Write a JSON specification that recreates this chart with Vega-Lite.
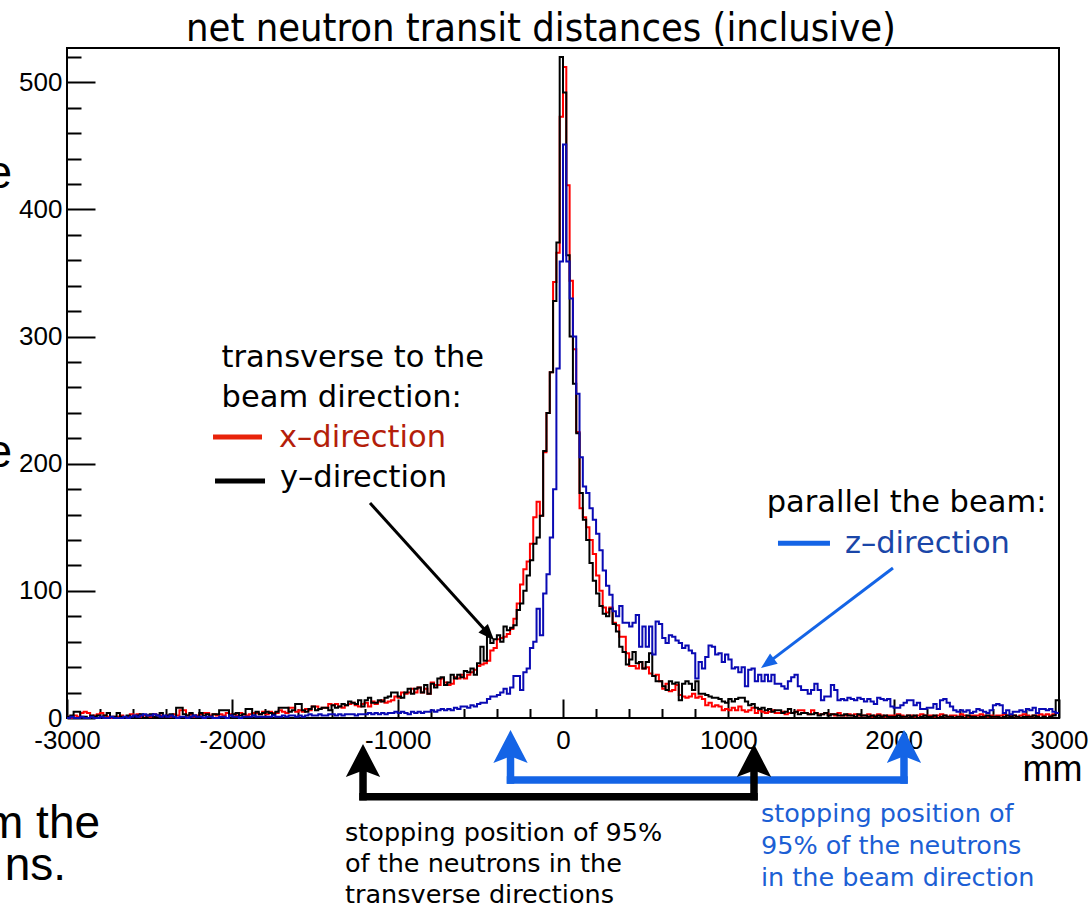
{
  "$schema": "https://vega.github.io/schema/vega-lite/v6.json",
  "width": 992,
  "height": 670,
  "autosize": {"type": "none"},
  "padding": {"left": 67, "top": 48, "right": 30, "bottom": 189},
  "background": "#ffffff",
  "title": {"text": "net neutron transit distances (inclusive)", "font": "DejaVu Sans Condensed, DejaVu Sans", "fontSize": 39.5, "fontWeight": "normal", "color": "#000000", "anchor": "middle", "frame": "group", "dx": -22, "dy": 42, "offset": 10, "baseline": "alphabetic"},
  "config": {"view": {"stroke": "#000000", "strokeWidth": 2}},
  "resolve": {"scale": {"color": "independent"}, "axis": {"x": "independent", "y": "independent"}},
  "datasets": {
    "hist": [
      {"mm":-3000,"x":1,"y":1,"z":0},{"mm":-2980,"x":0,"y":2,"z":1},{"mm":-2960,"x":2,"y":5,"z":0},{"mm":-2940,"x":1,"y":5,"z":0},{"mm":-2920,"x":4,"y":1,"z":1},
      {"mm":-2900,"x":5,"y":1,"z":0},{"mm":-2880,"x":4,"y":0,"z":0},{"mm":-2860,"x":1,"y":2,"z":1},{"mm":-2840,"x":2,"y":1,"z":0},{"mm":-2820,"x":3,"y":2,"z":0},
      {"mm":-2800,"x":4,"y":0,"z":1},{"mm":-2780,"x":2,"y":2,"z":0},{"mm":-2760,"x":1,"y":4,"z":0},{"mm":-2740,"x":0,"y":1,"z":1},{"mm":-2720,"x":1,"y":1,"z":0},
      {"mm":-2700,"x":1,"y":4,"z":0},{"mm":-2680,"x":2,"y":1,"z":0},{"mm":-2660,"x":0,"y":0,"z":1},{"mm":-2640,"x":1,"y":2,"z":0},{"mm":-2620,"x":3,"y":1,"z":1},
      {"mm":-2600,"x":2,"y":1,"z":2},{"mm":-2580,"x":3,"y":2,"z":1},{"mm":-2560,"x":1,"y":3,"z":2},{"mm":-2540,"x":2,"y":0,"z":3},{"mm":-2520,"x":2,"y":2,"z":2},
      {"mm":-2500,"x":1,"y":3,"z":2},{"mm":-2480,"x":3,"y":1,"z":3},{"mm":-2460,"x":2,"y":2,"z":2},{"mm":-2440,"x":2,"y":4,"z":1},{"mm":-2420,"x":1,"y":1,"z":2},
      {"mm":-2400,"x":2,"y":2,"z":1},{"mm":-2380,"x":1,"y":3,"z":2},{"mm":-2360,"x":3,"y":1,"z":1},{"mm":-2340,"x":2,"y":8,"z":0},{"mm":-2320,"x":6,"y":8,"z":1},
      {"mm":-2300,"x":6,"y":3,"z":1},{"mm":-2280,"x":2,"y":2,"z":0},{"mm":-2260,"x":3,"y":4,"z":1},{"mm":-2240,"x":1,"y":2,"z":2},{"mm":-2220,"x":2,"y":1,"z":1},
      {"mm":-2200,"x":3,"y":4,"z":1},{"mm":-2180,"x":4,"y":2,"z":0},{"mm":-2160,"x":4,"y":3,"z":1},{"mm":-2140,"x":2,"y":1,"z":1},{"mm":-2120,"x":3,"y":3,"z":0},
      {"mm":-2100,"x":2,"y":3,"z":0},{"mm":-2080,"x":3,"y":6,"z":1},{"mm":-2060,"x":2,"y":6,"z":1},{"mm":-2040,"x":4,"y":6,"z":0},{"mm":-2020,"x":3,"y":2,"z":2},
      {"mm":-2000,"x":3,"y":3,"z":1},{"mm":-1980,"x":2,"y":4,"z":1},{"mm":-1960,"x":4,"y":2,"z":0},{"mm":-1940,"x":3,"y":3,"z":1},{"mm":-1920,"x":2,"y":7,"z":1},
      {"mm":-1900,"x":3,"y":7,"z":1},{"mm":-1880,"x":4,"y":2,"z":2},{"mm":-1860,"x":4,"y":5,"z":1},{"mm":-1840,"x":3,"y":3,"z":1},{"mm":-1820,"x":5,"y":4,"z":1},
      {"mm":-1800,"x":3,"y":5,"z":1},{"mm":-1780,"x":5,"y":4,"z":1},{"mm":-1760,"x":4,"y":3,"z":2},{"mm":-1740,"x":4,"y":5,"z":1},{"mm":-1720,"x":6,"y":8,"z":1},
      {"mm":-1700,"x":5,"y":8,"z":2},{"mm":-1680,"x":4,"y":8,"z":1},{"mm":-1660,"x":8,"y":5,"z":2},{"mm":-1640,"x":8,"y":6,"z":2},{"mm":-1620,"x":5,"y":11,"z":1},
      {"mm":-1600,"x":6,"y":11,"z":2},{"mm":-1580,"x":5,"y":6,"z":1},{"mm":-1560,"x":7,"y":5,"z":2},{"mm":-1540,"x":6,"y":7,"z":3},{"mm":-1520,"x":9,"y":9,"z":2},
      {"mm":-1500,"x":9,"y":6,"z":2},{"mm":-1480,"x":7,"y":7,"z":3},{"mm":-1460,"x":8,"y":8,"z":2},{"mm":-1440,"x":8,"y":8,"z":2},{"mm":-1420,"x":11,"y":6,"z":3},
      {"mm":-1400,"x":10,"y":10,"z":3},{"mm":-1380,"x":11,"y":8,"z":2},{"mm":-1360,"x":9,"y":9,"z":3},{"mm":-1340,"x":8,"y":11,"z":2},{"mm":-1320,"x":10,"y":10,"z":3},
      {"mm":-1300,"x":11,"y":13,"z":3},{"mm":-1280,"x":12,"y":12,"z":3},{"mm":-1260,"x":10,"y":11,"z":2},{"mm":-1240,"x":9,"y":14,"z":3},{"mm":-1220,"x":11,"y":9,"z":3},
      {"mm":-1200,"x":12,"y":14,"z":3},{"mm":-1180,"x":9,"y":16,"z":4},{"mm":-1160,"x":13,"y":12,"z":3},{"mm":-1140,"x":11,"y":12,"z":4},{"mm":-1120,"x":13,"y":14,"z":3},
      {"mm":-1100,"x":14,"y":13,"z":4},{"mm":-1080,"x":12,"y":16,"z":3},{"mm":-1060,"x":13,"y":17,"z":4},{"mm":-1040,"x":14,"y":20,"z":4},{"mm":-1020,"x":17,"y":20,"z":5},
      {"mm":-1000,"x":16,"y":17,"z":4},{"mm":-980,"x":20,"y":16,"z":5},{"mm":-960,"x":19,"y":20,"z":4},{"mm":-940,"x":20,"y":23,"z":3},{"mm":-920,"x":23,"y":19,"z":5},
      {"mm":-900,"x":20,"y":23,"z":4},{"mm":-880,"x":24,"y":24,"z":5},{"mm":-860,"x":20,"y":20,"z":4},{"mm":-840,"x":23,"y":26,"z":5},{"mm":-820,"x":19,"y":19,"z":5},
      {"mm":-800,"x":28,"y":27,"z":6},{"mm":-780,"x":26,"y":24,"z":5},{"mm":-760,"x":26,"y":31,"z":6},{"mm":-740,"x":31,"y":32,"z":7},{"mm":-720,"x":28,"y":26,"z":6},
      {"mm":-700,"x":26,"y":28,"z":7},{"mm":-680,"x":27,"y":34,"z":6},{"mm":-660,"x":32,"y":31,"z":8},{"mm":-640,"x":31,"y":34,"z":7},{"mm":-620,"x":34,"y":32,"z":9},
      {"mm":-600,"x":31,"y":37,"z":9},{"mm":-580,"x":34,"y":36,"z":8},{"mm":-560,"x":36,"y":39,"z":10},{"mm":-540,"x":38,"y":34,"z":9},{"mm":-520,"x":41,"y":43,"z":11},
      {"mm":-500,"x":42,"y":56,"z":12},{"mm":-480,"x":43,"y":45,"z":12},{"mm":-460,"x":45,"y":64,"z":15},{"mm":-440,"x":53,"y":59,"z":17},{"mm":-420,"x":55,"y":62,"z":17},
      {"mm":-400,"x":62,"y":65,"z":18},{"mm":-380,"x":63,"y":60,"z":20},{"mm":-360,"x":64,"y":72,"z":23},{"mm":-340,"x":66,"y":69,"z":19},{"mm":-320,"x":70,"y":71,"z":24},
      {"mm":-300,"x":78,"y":73,"z":33},{"mm":-280,"x":90,"y":85,"z":33},{"mm":-260,"x":105,"y":90,"z":22},{"mm":-240,"x":117,"y":100,"z":36},{"mm":-220,"x":123,"y":112,"z":39},
      {"mm":-200,"x":137,"y":124,"z":55},{"mm":-180,"x":158,"y":137,"z":60},{"mm":-160,"x":170,"y":142,"z":86},{"mm":-140,"x":159,"y":159,"z":65},{"mm":-120,"x":209,"y":210,"z":98},
      {"mm":-100,"x":240,"y":240,"z":113},{"mm":-80,"x":272,"y":272,"z":142},{"mm":-60,"x":343,"y":328,"z":180},{"mm":-40,"x":366,"y":374,"z":275},{"mm":-20,"x":473,"y":520,"z":359},
      {"mm":0,"x":512,"y":492,"z":451},{"mm":20,"x":419,"y":364,"z":359},{"mm":40,"x":344,"y":300,"z":330},{"mm":60,"x":290,"y":263,"z":300},{"mm":80,"x":225,"y":224,"z":255},
      {"mm":100,"x":165,"y":177,"z":205},{"mm":120,"x":158,"y":156,"z":182},{"mm":140,"x":150,"y":140,"z":177},{"mm":160,"x":140,"y":122,"z":165},{"mm":180,"x":129,"y":108,"z":156},
      {"mm":200,"x":112,"y":98,"z":145},{"mm":220,"x":100,"y":88,"z":132},{"mm":240,"x":87,"y":82,"z":116},{"mm":260,"x":83,"y":80,"z":104},{"mm":280,"x":87,"y":86,"z":97},
      {"mm":300,"x":75,"y":74,"z":84},{"mm":320,"x":73,"y":68,"z":80},{"mm":340,"x":64,"y":56,"z":88},{"mm":360,"x":64,"y":52,"z":75},{"mm":380,"x":51,"y":42,"z":75},
      {"mm":400,"x":41,"y":46,"z":72},{"mm":420,"x":41,"y":52,"z":75},{"mm":440,"x":39,"y":43,"z":81},{"mm":460,"x":44,"y":44,"z":56},{"mm":480,"x":39,"y":39,"z":72},
      {"mm":500,"x":40,"y":44,"z":56},{"mm":520,"x":35,"y":51,"z":72},{"mm":540,"x":33,"y":33,"z":50},{"mm":560,"x":34,"y":29,"z":76},{"mm":580,"x":29,"y":29,"z":74},
      {"mm":600,"x":23,"y":25,"z":63},{"mm":620,"x":27,"y":22,"z":59},{"mm":640,"x":21,"y":29,"z":65},{"mm":660,"x":22,"y":27,"z":64},{"mm":680,"x":26,"y":28,"z":61},
      {"mm":700,"x":18,"y":14,"z":59},{"mm":720,"x":17,"y":27,"z":55},{"mm":740,"x":16,"y":29,"z":57},{"mm":760,"x":17,"y":27,"z":53},{"mm":780,"x":19,"y":22,"z":51},
      {"mm":800,"x":16,"y":29,"z":31},{"mm":820,"x":17,"y":19,"z":44},{"mm":840,"x":15,"y":19,"z":39},{"mm":860,"x":10,"y":18,"z":48},{"mm":880,"x":12,"y":17,"z":57},
      {"mm":900,"x":9,"y":16,"z":56},{"mm":920,"x":10,"y":16,"z":50},{"mm":940,"x":9,"y":15,"z":51},{"mm":960,"x":6,"y":13,"z":44},{"mm":980,"x":7,"y":12,"z":50},
      {"mm":1000,"x":6,"y":15,"z":46},{"mm":1020,"x":8,"y":13,"z":39},{"mm":1040,"x":6,"y":15,"z":40},{"mm":1060,"x":9,"y":16,"z":36},{"mm":1080,"x":6,"y":16,"z":40},
      {"mm":1100,"x":5,"y":13,"z":25},{"mm":1120,"x":6,"y":10,"z":38},{"mm":1140,"x":8,"y":11,"z":39},{"mm":1160,"x":4,"y":8,"z":29},{"mm":1180,"x":6,"y":7,"z":34},
      {"mm":1200,"x":5,"y":8,"z":29},{"mm":1220,"x":4,"y":6,"z":34},{"mm":1240,"x":5,"y":7,"z":29},{"mm":1260,"x":6,"y":5,"z":34},{"mm":1280,"x":4,"y":6,"z":27},
      {"mm":1300,"x":4,"y":6,"z":27},{"mm":1320,"x":5,"y":4,"z":25},{"mm":1340,"x":3,"y":5,"z":23},{"mm":1360,"x":4,"y":7,"z":29},{"mm":1380,"x":4,"y":4,"z":32},
      {"mm":1400,"x":5,"y":5,"z":34},{"mm":1420,"x":6,"y":3,"z":25},{"mm":1440,"x":6,"y":4,"z":22},{"mm":1460,"x":4,"y":4,"z":22},{"mm":1480,"x":3,"y":3,"z":19},
      {"mm":1500,"x":6,"y":3,"z":22},{"mm":1520,"x":4,"y":4,"z":27},{"mm":1540,"x":3,"y":2,"z":22},{"mm":1560,"x":3,"y":3,"z":14},{"mm":1580,"x":4,"y":4,"z":17},
      {"mm":1600,"x":3,"y":2,"z":17},{"mm":1620,"x":3,"y":3,"z":26},{"mm":1640,"x":2,"y":3,"z":22},{"mm":1660,"x":4,"y":2,"z":14},{"mm":1680,"x":2,"y":2,"z":15},
      {"mm":1700,"x":2,"y":3,"z":14},{"mm":1720,"x":3,"y":2,"z":16},{"mm":1740,"x":2,"y":2,"z":15},{"mm":1760,"x":3,"y":1,"z":14},{"mm":1780,"x":2,"y":3,"z":16},
      {"mm":1800,"x":2,"y":2,"z":15},{"mm":1820,"x":2,"y":2,"z":13},{"mm":1840,"x":3,"y":1,"z":15},{"mm":1860,"x":1,"y":2,"z":13},{"mm":1880,"x":2,"y":1,"z":11},
      {"mm":1900,"x":3,"y":2,"z":16},{"mm":1920,"x":2,"y":1,"z":15},{"mm":1940,"x":1,"y":2,"z":14},{"mm":1960,"x":2,"y":1,"z":15},{"mm":1980,"x":2,"y":1,"z":9},
      {"mm":2000,"x":2,"y":1,"z":8},{"mm":2020,"x":3,"y":2,"z":8},{"mm":2040,"x":2,"y":1,"z":10},{"mm":2060,"x":1,"y":1,"z":12},{"mm":2080,"x":2,"y":2,"z":14},
      {"mm":2100,"x":2,"y":1,"z":14},{"mm":2120,"x":1,"y":2,"z":10},{"mm":2140,"x":2,"y":0,"z":12},{"mm":2160,"x":3,"y":1,"z":7},{"mm":2180,"x":2,"y":2,"z":7},
      {"mm":2200,"x":2,"y":1,"z":8},{"mm":2220,"x":2,"y":1,"z":8},{"mm":2240,"x":1,"y":2,"z":11},{"mm":2260,"x":2,"y":0,"z":7},{"mm":2280,"x":3,"y":1,"z":14},
      {"mm":2300,"x":2,"y":2,"z":15},{"mm":2320,"x":1,"y":1,"z":12},{"mm":2340,"x":2,"y":1,"z":9},{"mm":2360,"x":2,"y":0,"z":6},{"mm":2380,"x":1,"y":1,"z":5},
      {"mm":2400,"x":3,"y":1,"z":6},{"mm":2420,"x":2,"y":0,"z":5},{"mm":2440,"x":1,"y":2,"z":6},{"mm":2460,"x":2,"y":1,"z":4},{"mm":2480,"x":2,"y":1,"z":5},
      {"mm":2500,"x":2,"y":0,"z":7},{"mm":2520,"x":3,"y":1,"z":6},{"mm":2540,"x":2,"y":1,"z":5},{"mm":2560,"x":1,"y":2,"z":4},{"mm":2580,"x":2,"y":1,"z":6},
      {"mm":2600,"x":1,"y":1,"z":10},{"mm":2620,"x":2,"y":1,"z":11},{"mm":2640,"x":2,"y":0,"z":10},{"mm":2660,"x":3,"y":1,"z":4},{"mm":2680,"x":2,"y":2,"z":6},
      {"mm":2700,"x":2,"y":1,"z":3},{"mm":2720,"x":2,"y":2,"z":5},{"mm":2740,"x":1,"y":1,"z":5},{"mm":2760,"x":2,"y":0,"z":6},{"mm":2780,"x":3,"y":1,"z":5},
      {"mm":2800,"x":2,"y":1,"z":7},{"mm":2820,"x":1,"y":1,"z":6},{"mm":2840,"x":2,"y":2,"z":8},{"mm":2860,"x":2,"y":1,"z":4},{"mm":2880,"x":3,"y":0,"z":7},
      {"mm":2900,"x":2,"y":1,"z":7},{"mm":2920,"x":3,"y":0,"z":6},{"mm":2940,"x":2,"y":1,"z":7},{"mm":2960,"x":3,"y":2,"z":5},{"mm":2980,"x":4,"y":14,"z":4},
      {"mm":3000,"x":4,"y":14,"z":4}
    ],
    "brackets": [
      {"set":"beam","mm":-317.5,"mm2":2062.4,"n":-48.8,"n2":-48.8},
      {"set":"beam","mm":-317.5,"mm2":-317.5,"n":-48.8,"n2":-25},
      {"set":"beam","mm":2062.4,"mm2":2062.4,"n":-48.8,"n2":-25},
      {"set":"transverse","mm":-1209.6,"mm2":1155.2,"n":-61.9,"n2":-61.9},
      {"set":"transverse","mm":-1209.6,"mm2":-1209.6,"n":-61.9,"n2":-37},
      {"set":"transverse","mm":1155.2,"mm2":1155.2,"n":-61.9,"n2":-37}
    ],
    "bracket_heads": [
      {"set":"beam","mm":-317.5,"n":-9.4},
      {"set":"beam","mm":2062.4,"n":-9.4},
      {"set":"transverse","mm":-1209.6,"n":-20.5},
      {"set":"transverse","mm":1155.2,"n":-20.5}
    ],
    "pointers": [
      {"dir":"y","mm":-1167.3,"mm2":-441.5,"n":169.1,"n2":64.8},
      {"dir":"z","mm":1995.8,"mm2":1226.5,"n":118.0,"n2":42.2}
    ],
    "pointer_tips": [
      {"dir":"y","mm":-417.3,"n":61.35},
      {"dir":"z","mm":1197.5,"n":39.3}
    ],
    "keys": [
      {"dir":"x","mm":-2116.8,"mm2":-1820.5,"n":221.0},
      {"dir":"y","mm":-2104.7,"mm2":-1802.3,"n":186.4},
      {"dir":"z","mm":1300.3,"mm2":1614.8,"n":137.4}
    ],
    "key_text": [
      {"dir":"head","label":"transverse to the","mm":-2064.8,"n":276.1},
      {"dir":"head","label":"beam direction:","mm":-2064.8,"n":244.6},
      {"dir":"x","label":"x–direction","mm":-1717.6,"n":213.2},
      {"dir":"y","label":"y–direction","mm":-1711.6,"n":181.7},
      {"dir":"head","label":"parallel the beam:","mm":1232.0,"n":162.3},
      {"dir":"z","label":"z–direction","mm":1705.5,"n":129.6}
    ],
    "notes": [
      {"set":"transverse","label":"stopping position of 95%","mm":-1318.5,"n":-96.75},
      {"set":"transverse","label":"of the neutrons in the","mm":-1318.5,"n":-121.1},
      {"set":"transverse","label":"transverse directions","mm":-1318.5,"n":-145.5},
      {"set":"beam","label":"stopping position of","mm":1197.5,"n":-81.8},
      {"set":"beam","label":"95% of the neutrons","mm":1197.5,"n":-107.0},
      {"set":"beam","label":"in the beam direction","mm":1197.5,"n":-132.1}
    ],
    "slide_text": [
      {"label":"e","mm":-3332,"n":416.9},
      {"label":"e","mm":-3332,"n":197.4},
      {"label":"m the","mm":-2800,"n":-94.4},
      {"label":"ns.","mm":-3006,"n":-127.4}
    ]
  },
  "layer": [
    {
      "data": {"name": "hist"},
      "transform": [{"fold": ["x", "y", "z"], "as": ["direction", "count"]}],
      "mark": {"type": "line", "interpolate": "step-after", "strokeWidth": 2},
      "encoding": {
        "x": {"field": "mm", "type": "quantitative", "scale": {"domain": [-3000, 3000], "nice": false, "zero": false},
              "axis": {"orient": "bottom", "values": [-3000, -2000, -1000, 0, 1000, 2000, 3000], "domain": false, "grid": false,
                       "tickSize": -19, "tickWidth": 2, "tickColor": "#000000", "labelPadding": 28,
                       "labelFont": "Liberation Sans", "labelFontSize": 26, "labelColor": "#000000", "labelExpr": "'' + datum.value",
                       "labelFlush": false, "labelOverlap": false, "labelBound": false,
                       "title": "mm", "titleFont": "Liberation Sans", "titleFontSize": 36, "titleFontWeight": "normal", "titleColor": "#000000",
                       "titleAlign": "right", "titleAnchor": "end", "titleBaseline": "alphabetic", "titleX": 1015, "titleY": 62}},
        "y": {"field": "count", "type": "quantitative", "scale": {"domain": [0, 527], "nice": false, "zero": false},
              "axis": {"orient": "left", "values": [0, 100, 200, 300, 400, 500], "domain": false, "grid": false,
                       "tickSize": -28, "tickWidth": 2, "tickColor": "#000000", "labelPadding": 33,
                       "labelFont": "Liberation Sans", "labelFontSize": 26, "labelColor": "#000000", "labelAlign": "right", "labelBaseline": "middle",
                       "labelFlush": false, "labelOverlap": false, "labelBound": false, "title": null}},
        "color": {"field": "direction", "type": "nominal", "scale": {"domain": ["x", "y", "z"], "range": ["#ff0000", "#000000", "#0a0ab4"]}, "legend": null}
      }
    },
    {
      "data": {"name": "brackets"},
      "mark": {"type": "rule", "strokeWidth": 7.5, "strokeCap": "square"},
      "encoding": {
        "x": {"field": "mm", "type": "quantitative", "scale": {"domain": [-3000, 3000], "nice": false, "zero": false},
              "axis": {"orient": "bottom", "values": [-2800, -2600, -2400, -2200, -1800, -1600, -1400, -1200, -800, -600, -400, -200, 200, 400, 600, 800, 1200, 1400, 1600, 1800, 2200, 2400, 2600, 2800],
                       "domain": false, "grid": false, "labels": false, "tickSize": -9.5, "tickWidth": 2, "tickColor": "#000000", "title": null}},
        "x2": {"field": "mm2"},
        "y": {"field": "n", "type": "quantitative", "scale": {"domain": [0, 527], "nice": false, "zero": false},
              "axis": {"orient": "left", "values": [20, 40, 60, 80, 120, 140, 160, 180, 220, 240, 260, 280, 320, 340, 360, 380, 420, 440, 460, 480, 520],
                       "domain": false, "grid": false, "labels": false, "tickSize": -14, "tickWidth": 2, "tickColor": "#000000", "title": null}},
        "y2": {"field": "n2"},
        "color": {"field": "set", "type": "nominal", "scale": {"domain": ["transverse", "beam"], "range": ["#000000", "#1464e6"]}, "legend": null}
      }
    },
    {
      "data": {"name": "bracket_heads"},
      "mark": {"type": "point", "shape": "M0,0L0.52,1L0,0.8L-0.52,1Z", "size": 4356, "filled": true, "opacity": 1, "strokeOpacity": 0},
      "encoding": {
        "x": {"field": "mm", "type": "quantitative", "scale": {"domain": [-3000, 3000], "nice": false, "zero": false}, "axis": null},
        "y": {"field": "n", "type": "quantitative", "scale": {"domain": [0, 527], "nice": false, "zero": false}, "axis": null},
        "color": {"field": "set", "type": "nominal", "scale": {"domain": ["transverse", "beam"], "range": ["#000000", "#1464e6"]}, "legend": null}
      }
    },
    {
      "data": {"name": "pointers"},
      "mark": {"type": "rule", "strokeWidth": 3},
      "encoding": {
        "x": {"field": "mm", "type": "quantitative", "scale": {"domain": [-3000, 3000], "nice": false, "zero": false}, "axis": null},
        "x2": {"field": "mm2"},
        "y": {"field": "n", "type": "quantitative", "scale": {"domain": [0, 527], "nice": false, "zero": false}, "axis": null},
        "y2": {"field": "n2"},
        "color": {"field": "dir", "type": "nominal", "scale": {"domain": ["y", "z"], "range": ["#000000", "#1464e6"]}, "legend": null}
      }
    },
    {
      "data": {"name": "pointer_tips"},
      "transform": [{"filter": "datum.dir === 'y'"}],
      "mark": {"type": "point", "shape": "M0,0L0.4,1L-0.4,1Z", "size": 1024, "angle": 137.4, "filled": true, "opacity": 1, "strokeOpacity": 0, "color": "#000000"},
      "encoding": {
        "x": {"field": "mm", "type": "quantitative", "scale": {"domain": [-3000, 3000], "nice": false, "zero": false}, "axis": null},
        "y": {"field": "n", "type": "quantitative", "scale": {"domain": [0, 527], "nice": false, "zero": false}, "axis": null}
      }
    },
    {
      "data": {"name": "pointer_tips"},
      "transform": [{"filter": "datum.dir === 'z'"}],
      "mark": {"type": "point", "shape": "M0,0L0.4,1L-0.4,1Z", "size": 1024, "angle": 233.6, "filled": true, "opacity": 1, "strokeOpacity": 0, "color": "#1464e6"},
      "encoding": {
        "x": {"field": "mm", "type": "quantitative", "scale": {"domain": [-3000, 3000], "nice": false, "zero": false}, "axis": null},
        "y": {"field": "n", "type": "quantitative", "scale": {"domain": [0, 527], "nice": false, "zero": false}, "axis": null}
      }
    },
    {
      "data": {"name": "keys"},
      "mark": {"type": "rule", "strokeWidth": 5},
      "encoding": {
        "x": {"field": "mm", "type": "quantitative", "scale": {"domain": [-3000, 3000], "nice": false, "zero": false}, "axis": null},
        "x2": {"field": "mm2"},
        "y": {"field": "n", "type": "quantitative", "scale": {"domain": [0, 527], "nice": false, "zero": false}, "axis": null},
        "color": {"field": "dir", "type": "nominal", "scale": {"domain": ["x", "y", "z"], "range": ["#e8230a", "#000000", "#1464e6"]}, "legend": null}
      }
    },
    {
      "data": {"name": "key_text"},
      "mark": {"type": "text", "font": "DejaVu Sans", "fontSize": 30.5, "align": "left", "baseline": "alphabetic"},
      "encoding": {
        "x": {"field": "mm", "type": "quantitative", "scale": {"domain": [-3000, 3000], "nice": false, "zero": false}, "axis": null},
        "y": {"field": "n", "type": "quantitative", "scale": {"domain": [0, 527], "nice": false, "zero": false}, "axis": null},
        "text": {"field": "label"},
        "color": {"field": "dir", "type": "nominal", "scale": {"domain": ["head", "x", "y", "z"], "range": ["#000000", "#b41e0a", "#000000", "#1a46a8"]}, "legend": null}
      }
    },
    {
      "data": {"name": "notes"},
      "mark": {"type": "text", "font": "DejaVu Sans", "fontSize": 25.5, "align": "left", "baseline": "alphabetic"},
      "encoding": {
        "x": {"field": "mm", "type": "quantitative", "scale": {"domain": [-3000, 3000], "nice": false, "zero": false}, "axis": null},
        "y": {"field": "n", "type": "quantitative", "scale": {"domain": [0, 527], "nice": false, "zero": false}, "axis": null},
        "text": {"field": "label"},
        "color": {"field": "set", "type": "nominal", "scale": {"domain": ["transverse", "beam"], "range": ["#000000", "#1c5fd4"]}, "legend": null}
      }
    },
    {
      "data": {"name": "slide_text"},
      "mark": {"type": "text", "font": "Liberation Sans", "fontSize": 46, "align": "right", "baseline": "alphabetic", "color": "#000000"},
      "encoding": {
        "x": {"field": "mm", "type": "quantitative", "scale": {"domain": [-3000, 3000], "nice": false, "zero": false}, "axis": null},
        "y": {"field": "n", "type": "quantitative", "scale": {"domain": [0, 527], "nice": false, "zero": false}, "axis": null},
        "text": {"field": "label"}
      }
    }
  ]
}
